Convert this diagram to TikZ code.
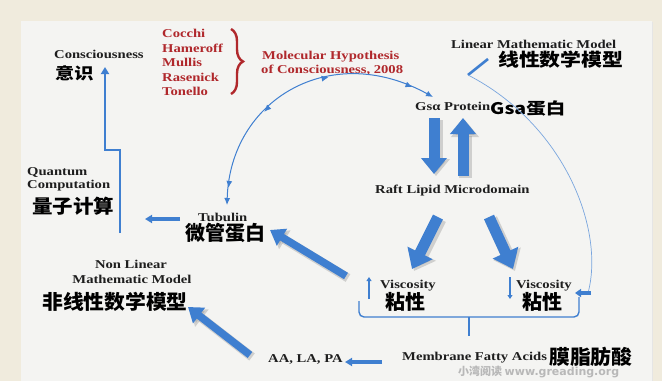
\documentclass[tikz,border=0pt]{standalone}
\usepackage{fontspec}
\usepackage{graphicx}
\setmainfont{Liberation Serif}
\newfontfamily\cjk{Noto Sans CJK SC}
\newfontfamily\wmfont{DejaVu Sans}
\newfontfamily\wmcjk{Noto Sans CJK SC}
\usetikzlibrary{arrows.meta,decorations.markings,decorations.pathreplacing}
\definecolor{cream}{HTML}{F0EBDD}
\definecolor{panel}{HTML}{F4F4F2}
\definecolor{ablue}{HTML}{3F7FD0}
\definecolor{dblue}{HTML}{2F64A8}
\definecolor{rtext}{HTML}{B0282C}
\definecolor{ink}{HTML}{1E1E1E}
\newcommand\lat[1]{\scalebox{1.22}[1]{#1}}
\newcommand\chs[3]{\fontsize{#1}{#1}\selectfont\scalebox{#2}[1]{#3}}
\tikzset{
  lbl/.style={anchor=base west, inner sep=0pt, font=\fontsize{12}{12}\selectfont\bfseries, text=ink},
  redlbl/.style={lbl, text=rtext},
  cn/.style={anchor=west, inner sep=0pt, font=\cjk\bfseries, text=black},
  thinarrow/.style={draw=ablue, line width=2.6pt, -{Triangle[length=7pt,width=8pt]}},
  blockarrow/.style={draw=ablue, line width=#1},
  shadowarrow/.style={draw=black!45, opacity=0.35, line width=#1},
}
\begin{document}
\begin{tikzpicture}[x=1pt,y=-1pt]
\useasboundingbox (0,0) rectangle (662,381);
\fill[cream] (0,0) rectangle (662,381);
\fill[black!10] (22,22) rectangle (653,381);
\fill[panel] (21,21) rectangle (652,381);

% ---------- labels ----------
\node[lbl] (consc) at (54,58) {\lat{Consciousness}};
\node[cn] (yishi) at (55,73) {\chs{16}{1.2}{意识}};

\node[redlbl] (n1) at (162,37) {\lat{Cocchi}};
\node[redlbl] (n2) at (162,52) {\lat{Hameroff}};
\node[redlbl] (n3) at (162,66) {\lat{Mullis}};
\node[redlbl] (n4) at (162,81) {\lat{Rasenick}};
\node[redlbl] (n5) at (162,95) {\lat{Tonello}};
\node[redlbl] (mh1) at (262,59) {\lat{Molecular Hypothesis}};
\node[redlbl] (mh2) at (261,73) {\lat{of Consciousness, 2008}};

\node[lbl] (lmm) at (451,48) {\lat{Linear Mathematic Model}};
\node[cn] (lmmc) at (498,60) {\chs{18}{1.16}{线性数学模型}};

\node[lbl] (gsa) at (415,110) {\lat{Gsα Protein}};
\node[cn] (gsac) at (490,108) {\chs{16}{1.22}{Gsa蛋白}};

\node[lbl] (raft) at (375,193) {\lat{Raft Lipid Microdomain}};

\node[lbl] (qc1) at (27,175) {\lat{Quantum}};
\node[lbl] (qc2) at (27,188) {\lat{Computation}};
\node[cn] (qcc) at (32,206) {\chs{19}{1.08}{量子计算}};

\node[lbl] (tub) at (198,221) {\lat{Tubulin}};
\node[cn] (tubc) at (185,233) {\chs{20}{1.0}{微管蛋白}};

\node[lbl, anchor=base] (nl1) at (131,268) {\lat{Non Linear}};
\node[lbl, anchor=base] (nl2) at (132,283) {\lat{Mathematic Model}};
\node[cn] (nlc) at (42,302) {\chs{20}{1.04}{非线性数学模型}};

\node[lbl] (visl) at (380,288) {\lat{Viscosity}};
\node[cn] (vislc) at (385,302) {\chs{20}{1.0}{粘性}};
\node[lbl] (visr) at (516,288) {\lat{Viscosity}};
\node[cn] (visrc) at (522,302) {\chs{20}{1.0}{粘性}};

\node[lbl] (aa) at (268,362) {\lat{AA, LA, PA}};
\node[lbl] (mfa) at (402,360) {\lat{Membrane Fatty Acids}};
\node[cn] (mfac) at (549,357) {\chs{20}{1.04}{膜脂肪酸}};

\node[anchor=west, inner sep=0pt, text=black!28] (wm) at (458,372)
  {\wmcjk\bfseries\fontsize{11}{11}\selectfont 小湾阅读 \wmfont\bfseries www.greading.org};

% ---------- red brace ----------
\coordinate (bt) at (231,29);
\coordinate (bb) at (231,94);
\draw[rtext, line width=2.4pt, decorate, decoration={brace, amplitude=12pt}] (bt) -- (bb);

% ---------- consciousness arrow ----------
\coordinate (qa0) at (120,233);
\coordinate (qa1) at (120,150);
\coordinate (qa2) at (105,150);
\coordinate (qa3) at (105,67);
\draw[thinarrow, line width=2.4pt] (qa0) -- (qa1) -- (qa2) -- (qa3);

% tubulin -> quantum
\coordinate (ta0) at (180,219);
\coordinate (ta1) at (145,219);
\draw[thinarrow, line width=3.4pt] (ta0) -- (ta1);

% ---------- hypothesis arc ----------
\coordinate (arcA) at (227,205);
\coordinate (arcB) at (433,97);
\draw[ablue, line width=1pt, {Latex[length=7pt,width=6pt]}-{Latex[length=7pt,width=6pt]},
  decoration={markings,
    mark=at position 0.06 with {\arrowreversed{Latex[length=7pt,width=6pt]}},
    mark=at position 0.36 with {\arrowreversed{Latex[length=7pt,width=6pt]}},
    mark=at position 0.62 with {\arrow{Latex[length=7pt,width=6pt]}},
    mark=at position 0.92 with {\arrow{Latex[length=7pt,width=6pt]}}},
  postaction={decorate}]
  (arcA) .. controls (230,100) and (330,40) .. (arcB);

% ---------- Gsa <-> Raft block arrows ----------
\coordinate (d0) at (434,118);
\coordinate (d1) at (434,174);
\coordinate (u0) at (463,176);
\coordinate (u1) at (463,118);
\draw[shadowarrow=13pt, -{Triangle[length=17pt,width=27pt]}] ([xshift=2pt,yshift=-2pt]d0) -- ([xshift=2pt,yshift=-2pt]d1);
\draw[shadowarrow=13pt, -{Triangle[length=17pt,width=27pt]}] ([xshift=2pt,yshift=-2pt]u0) -- ([xshift=2pt,yshift=-2pt]u1);
\draw[blockarrow=11pt, -{Triangle[length=16pt,width=25pt]}] (d0) -- (d1);
\draw[blockarrow=11pt, -{Triangle[length=16pt,width=25pt]}] (u0) -- (u1);

% raft -> viscosity
\coordinate (rl0) at (438,217);
\coordinate (rl1) at (412,269);
\coordinate (rr0) at (489,217);
\coordinate (rr1) at (513,269);
\draw[shadowarrow=13pt, -{Triangle[length=19pt,width=29pt]}] ([xshift=2pt,yshift=-2pt]rl0) -- ([xshift=2pt,yshift=-2pt]rl1);
\draw[shadowarrow=13pt, -{Triangle[length=19pt,width=29pt]}] ([xshift=2pt,yshift=-2pt]rr0) -- ([xshift=2pt,yshift=-2pt]rr1);
\draw[blockarrow=11pt, -{Triangle[length=18pt,width=27pt]}] (rl0) -- (rl1);
\draw[blockarrow=11pt, -{Triangle[length=18pt,width=27pt]}] (rr0) -- (rr1);

% viscosity -> tubulin
\coordinate (vt0) at (346,276);
\coordinate (vt1) at (270,230);
\draw[shadowarrow=9pt, -{Triangle[length=15pt,width=21pt]}] ([xshift=2pt,yshift=-2pt]vt0) -- ([xshift=2pt,yshift=-2pt]vt1);
\draw[blockarrow=7.5pt, -{Triangle[length=14pt,width=19pt]}] (vt0) -- (vt1);

% AA -> non linear
\coordinate (an0) at (250,355);
\coordinate (an1) at (188,307);
\draw[shadowarrow=9pt, -{Triangle[length=15pt,width=21pt]}] ([xshift=2pt,yshift=-2pt]an0) -- ([xshift=2pt,yshift=-2pt]an1);
\draw[blockarrow=7.5pt, -{Triangle[length=14pt,width=19pt]}] (an0) -- (an1);

% membrane -> AA
\coordinate (ma0) at (382,362);
\coordinate (ma1) at (345,362);
\draw[thinarrow, line width=3.6pt] (ma0) -- (ma1);

% small viscosity arrows
\coordinate (sl0) at (369,299);
\coordinate (sl1) at (369,277);
\coordinate (sr0) at (510,277);
\coordinate (sr1) at (510,299);
\draw[ablue, line width=2.2pt, -{Triangle[length=4pt,width=5pt]}] (sl0) -- (sl1);
\draw[ablue, line width=2.2pt, -{Triangle[length=4pt,width=5pt]}] (sr0) -- (sr1);

% linear model curve
\coordinate (lm0) at (468,75);
\coordinate (lm1) at (488,59);
\coordinate (lm2) at (588,293);
\coordinate (lm3) at (575,293);
\draw[ablue, line width=2.6pt] (lm0) -- (lm1);
\draw[ablue!70, line width=0.7pt] (lm0) .. controls (565,125) and (605,230) .. (lm2);
\draw[thinarrow, line width=3.6pt, -{Triangle[length=6pt,width=8pt]}] ([xshift=3pt]lm2) -- (lm3);

% bracket under viscosity
\coordinate (bk0) at (359,301);
\coordinate (bk1) at (579,297);
\coordinate (bkm) at (469,317);
\coordinate (bkt) at (469,336);
\draw[ablue, line width=1.4pt, rounded corners=5pt] (bk0) -- (359,317) -- (579,317) -- (bk1);
\draw[ablue, line width=1.4pt] (bkm) -- (bkt);
\end{tikzpicture}
\end{document}
